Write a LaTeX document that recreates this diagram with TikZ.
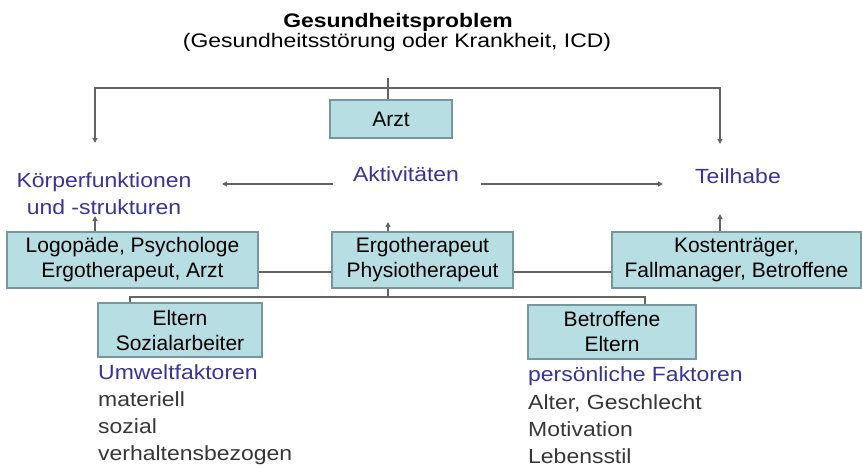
\documentclass[tikz,border=0pt]{standalone}
\usepackage{fontspec}
\setmainfont{Liberation Sans}
\newfontfamily\widefont{Liberation Sans}[FakeStretch=1.12]
\newfontfamily\titlefont{Liberation Sans}[FakeStretch=1.17]
\usetikzlibrary{arrows.meta}
\definecolor{boxfill}{RGB}{183,222,226}
\definecolor{boxdraw}{RGB}{118,152,156}
\definecolor{lblblue}{RGB}{58,52,150}
\definecolor{lsttext}{RGB}{55,55,55}
\definecolor{lncol}{RGB}{100,100,100}
\begin{document}
\begin{tikzpicture}[x=1pt,y=-1pt,
  boxnode/.style={draw=boxdraw, line width=1.6pt, fill=boxfill, inner sep=0pt,
    align=center, font=\fontsize{21}{25}\selectfont},
  lbl/.style={text=lblblue, align=center, inner sep=0pt, font=\widefont\fontsize{20.5}{27}\selectfont},
  lstitem/.style={text=lsttext, anchor=base west, inner sep=0pt, font=\widefont\fontsize{20.5}{27}\selectfont},
  lsthead/.style={text=lblblue, anchor=base west, inner sep=0pt, font=\widefont\fontsize{20.5}{27}\selectfont},
  ttl/.style={anchor=base, inner sep=0pt, font=\titlefont\fontsize{19.6}{22}\selectfont},
  ln/.style={draw=lncol, line width=1.3pt},
  arr/.style={ln, -{Triangle[length=5pt,width=5pt]}},
  arrboth/.style={ln, {Triangle[length=5pt,width=5pt]}-{Triangle[length=5pt,width=5pt]}}]
\useasboundingbox (0,0) rectangle (862,468);
\fill[white] (0,0) rectangle (862,468);

% title
\node[ttl] (title) at (398,28) {\bfseries Gesundheitsproblem};
\node[ttl] (subtitle) at (397,48) {(Gesundheitsstörung oder Krankheit, ICD)};

% boxes
\node[boxnode, minimum width=122pt, minimum height=38pt] (arzt) at (391,119) {Arzt};
\node[boxnode, minimum width=251pt, minimum height=56pt] (logo) at (132.5,260) {Logopäde, Psychologe\\Ergotherapeut, Arzt};
\node[boxnode, minimum width=181pt, minimum height=56pt] (ergo) at (422.5,260) {Ergotherapeut\\Physiotherapeut};
\node[boxnode, minimum width=249pt, minimum height=56pt] (kost) at (736.5,260) {Kostenträger,\\Fallmanager, Betroffene};
\node[boxnode, minimum width=164pt, minimum height=54pt] (elt) at (180,330) {Eltern\\Sozialarbeiter};
\node[boxnode, minimum width=168pt, minimum height=54pt] (betr) at (612,332) {Betroffene\\Eltern};

% blue labels
\node[lbl] (koerper) at (104,194) {Körperfunktionen\\und -strukturen};
\node[lbl, anchor=base] (akt) at (406,182) {Aktivitäten};
\node[lbl, anchor=base] (teil) at (738,183) {Teilhabe};

% lists
\node[lsthead] (umw) at (98,379) {Umweltfaktoren};
\node[lstitem] (mat) at (98,406) {materiell};
\node[lstitem] (soz) at (98,433) {sozial};
\node[lstitem] (verh) at (98,460) {verhaltensbezogen};
\node[lsthead] (pers) at (528,381) {persönliche Faktoren};
\node[lstitem] (alter) at (528,409) {Alter, Geschlecht};
\node[lstitem] (motiv) at (528,436) {Motivation};
\node[lstitem] (leben) at (528,463) {Lebensstil};

% coordinates
\coordinate (t0) at (388,78);
\coordinate (tL) at (95,88);
\coordinate (tR) at (720,88);
\coordinate (kTop) at (95,143);
\coordinate (tTop) at (720,144);
\coordinate (akL) at (333,184);
\coordinate (koR) at (222,184);
\coordinate (akR) at (481,184);
\coordinate (teL) at (663,184);
\coordinate (kBot) at (95,216);
\coordinate (aBot) at (388,222);
\coordinate (tBot) at (720,214);
\coordinate (hy) at (0,272);
\coordinate (b0) at (388,297);
\coordinate (bL) at (130,297);
\coordinate (bR) at (645,297);

% connectors
\draw[ln] (t0) -- (t0 |- arzt.north);
\draw[arrboth] (kTop) -- (tL) -- (tR) -- (tTop);
\draw[arr] (akL) -- (koR);
\draw[arr] (akR) -- (teL);
\draw[arr] (kBot |- logo.north) -- (kBot);
\draw[arr] (aBot |- ergo.north) -- (aBot);
\draw[arr] (tBot |- kost.north) -- (tBot);
\draw[ln] (logo.east |- hy) -- (ergo.west |- hy);
\draw[ln] (ergo.east |- hy) -- (kost.west |- hy);
\draw[ln] (b0 |- ergo.south) -- (b0);
\draw[ln] (bL |- elt.north) -- (bL) -- (bR) -- (bR |- betr.north);
\end{tikzpicture}
\end{document}
